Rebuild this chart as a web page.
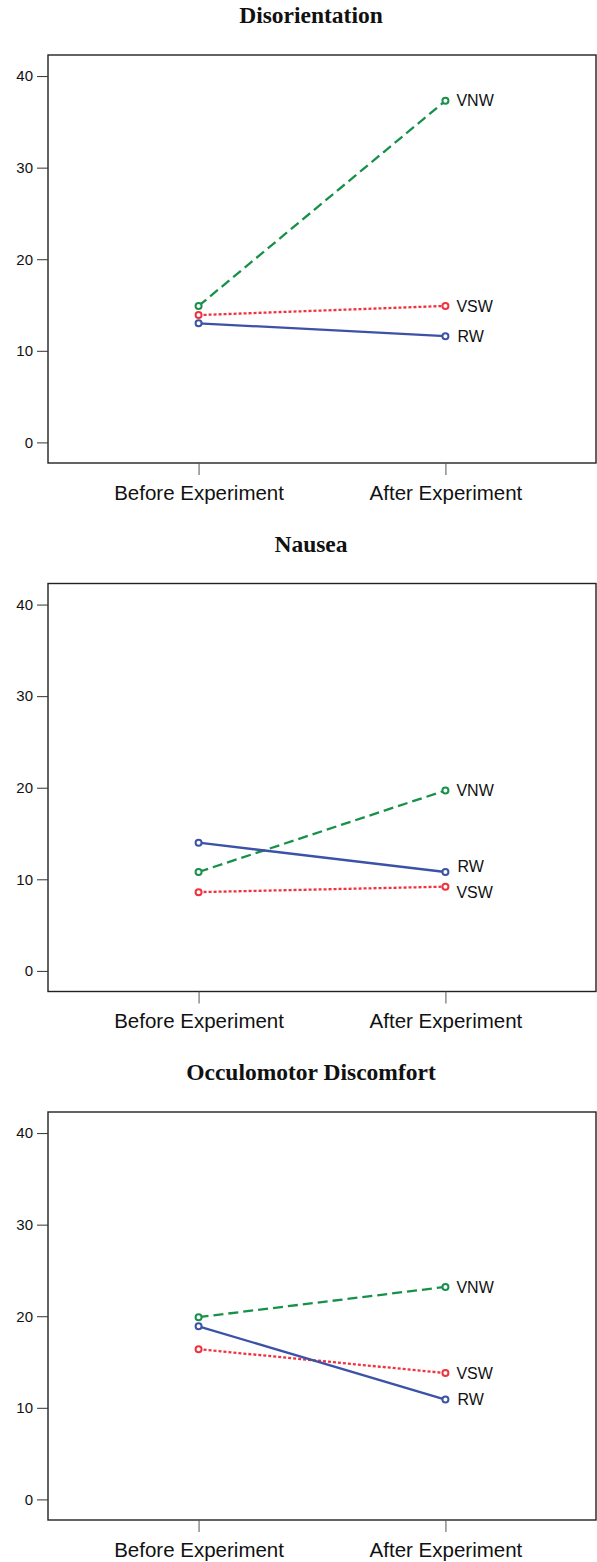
<!DOCTYPE html>
<html>
<head>
<meta charset="utf-8">
<script src="https://cdn.jsdelivr.net/npm/d3@7"></script>
<style>
  body { margin: 0; background: #fff; }
  svg { display: block; }
</style>
</head>
<body>
<div id="chart"></div>
<script>
var phases = ['Before Experiment', 'After Experiment']
var panelTitles = ['Disorientation', 'Nausea', 'Occulomotor Discomfort']
var seriesNames = ['VNW', 'VSW', 'RW']
var yTicks = [0, 10, 20, 30, 40]

// values per panel, [before, after]
var vnw = [[14.9, 37.3], [10.8, 19.7], [19.9, 23.2]]
var vsw = [[13.9, 14.9], [8.6, 9.2], [16.4, 13.8]]
var rw = [[13.0, 11.6], [14.0, 10.8], [18.9, 10.9]]

var seriesValues = [vnw, vsw, rw]
var colors = { VNW: '#17914a', VSW: '#f0323f', RW: '#3b52a6' }
var dashes = { VNW: '10,5', VSW: '3,2', RW: null }

var W = 597
var H = 1562
var margin = { top: 55, left: 48, right: 1 }
var plotH = 408
var panelStep = 528.5

var svg = d3
  .select('#chart')
  .append('svg')
  .attr('width', W)
  .attr('height', H)

var xScale = d3
  .scalePoint()
  .domain(phases)
  .range([margin.left, W - margin.right])
  .padding(0.61)

panelTitles.forEach(function(title, p) {
  var top = margin.top + p * panelStep
  var g = svg.append('g').attr('transform', 'translate(0,' + top + ')')

  var yScale = d3
    .scaleLinear()
    .domain([-2.25, 42.3])
    .range([plotH, 0])

  // title
  g.append('text')
    .text(title)
    .attr('x', 311)
    .attr('y', -32)
    .attr('text-anchor', 'middle')
    .attr('font-family', 'Liberation Serif, Times New Roman, serif')
    .attr('font-weight', 'bold')
    .attr('font-size', 23.5)
    .attr('fill', '#111')

  // frame
  g.append('rect')
    .attr('x', margin.left)
    .attr('y', 0)
    .attr('width', W - margin.right - margin.left)
    .attr('height', plotH)
    .attr('fill', 'none')
    .attr('stroke', '#222')
    .attr('stroke-width', 1.4)

  var yAxis = d3
    .axisLeft(yScale)
    .tickValues(yTicks)
    .tickSize(11)
    .tickPadding(4)
  var ya = g
    .append('g')
    .attr('class', 'axis y-axis')
    .attr('transform', 'translate(' + margin.left + ',0)')
    .call(yAxis)
  ya.select('.domain').remove()
  ya.selectAll('line').attr('stroke', '#333')
  ya.selectAll('text')
    .attr('font-family', 'Liberation Sans, Arial, sans-serif')
    .attr('font-size', 15)
    .attr('fill', '#111')

  var xAxis = d3
    .axisBottom(xScale)
    .tickSize(12)
    .tickPadding(10)
  var xa = g
    .append('g')
    .attr('class', 'axis x-axis')
    .attr('transform', 'translate(0,' + plotH + ')')
    .call(xAxis)
  xa.select('.domain').remove()
  xa.selectAll('line').attr('stroke', '#555')
  xa.selectAll('text')
    .attr('font-family', 'Liberation Sans, Arial, sans-serif')
    .attr('font-size', 20.5)
    .attr('fill', '#111')

  var line = d3
    .line()
    .x(function(d, i) {
      return xScale(phases[i])
    })
    .y(function(d) {
      return yScale(d)
    })

  var labels = []
  seriesNames.forEach(function(name, s) {
    var vals = seriesValues[s][p]
    g.append('path')
      .datum(vals)
      .attr('d', line)
      .attr('fill', 'none')
      .attr('stroke', colors[name])
      .attr('stroke-width', 2.3)
      .attr('stroke-dasharray', dashes[name])

    g.selectAll('.pt-' + name)
      .data(vals)
      .enter()
      .append('circle')
      .attr('class', 'pt-' + name)
      .attr('cx', function(d, i) {
        return xScale(phases[i])
      })
      .attr('cy', function(d) {
        return yScale(d)
      })
      .attr('r', 3)
      .attr('fill', '#fff')
      .attr('stroke', colors[name])
      .attr('stroke-width', 2)

    labels.push({ name: name, y: yScale(vals[1]) })
  })

  // push overlapping labels apart
  labels.sort(function(a, b) {
    return a.y - b.y
  })
  for (var k = 0; k < 20; k++) {
    for (var j = 1; j < labels.length; j++) {
      var gap = labels[j].y - labels[j - 1].y
      if (gap < 26) {
        var shift = (26 - gap) / 2
        labels[j].y += shift
        labels[j - 1].y -= shift
      }
    }
  }

  g.selectAll('.lbl')
    .data(labels)
    .enter()
    .append('text')
    .attr('class', 'lbl')
    .text(function(d) {
      return d.name
    })
    .attr('x', function(d) {
      return xScale(phases[1]) + (d.name === 'RW' ? 12 : 11)
    })
    .attr('y', function(d) {
      return d.y
    })
    .attr('dy', '0.35em')
    .attr('font-family', 'Liberation Sans, Arial, sans-serif')
    .attr('font-size', 16)
    .attr('fill', '#111')
})
</script>
</body>
</html>
